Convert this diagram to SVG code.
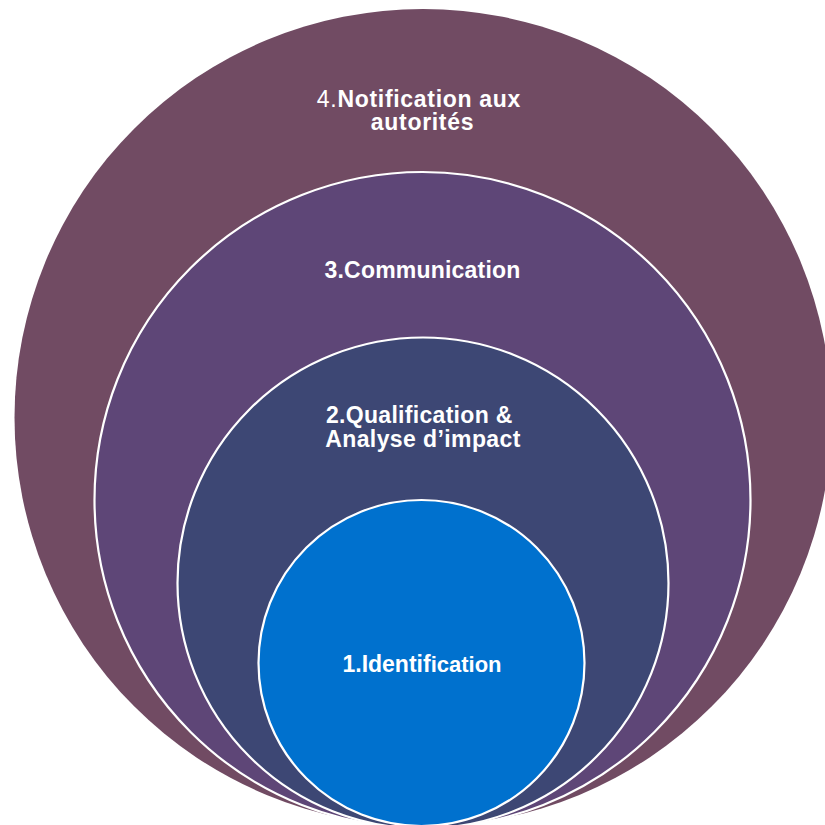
<svg xmlns="http://www.w3.org/2000/svg" width="825" height="825" viewBox="0 0 825 825">
  <style>
    .ring { stroke: #ffffff; stroke-width: 2.2; }
    .label { font-family: "Liberation Sans", Arial, sans-serif; font-weight: bold; font-size: 23px; fill: #ffffff; text-anchor: middle; }
    .plain { font-weight: normal; }
  </style>
  <rect width="825" height="825" fill="#ffffff"/>

  <!-- Stage 4: outermost circle -->
  <g id="stage-4-notification">
    <circle cx="423" cy="417.5" r="408.5" fill="#714B63"/>
    <text class="label" font-size="22" letter-spacing="0.7">
      <tspan x="422.5" y="106.5"><tspan class="plain">4.</tspan>Notification aux</tspan>
      <tspan x="422.5" y="129.5">autorités</tspan>
    </text>
  </g>

  <!-- Stage 3 -->
  <g id="stage-3-communication">
    <circle class="ring" cx="422.5" cy="500" r="328" fill="#5E4677"/>
    <text class="label" x="422.5" y="278" font-size="24" letter-spacing="0.2">3.Communication</text>
  </g>

  <!-- Stage 2 -->
  <g id="stage-2-qualification">
    <circle class="ring" cx="423" cy="583" r="245.5" fill="#3D4774"/>
    <text class="label" font-size="23">
      <tspan x="422.5" y="423" letter-spacing="0.3">2.Qualification &amp;</tspan>
      <tspan x="423" y="447" letter-spacing="0.4">Analyse d’impact</tspan>
    </text>
  </g>

  <!-- Stage 1: innermost circle -->
  <g id="stage-1-identification">
    <circle class="ring" cx="421.5" cy="663" r="163" fill="#0071CE"/>
    <text class="label" x="422" y="671.5">1.Identif<tspan font-size="22">ication</tspan></text>
  </g>
</svg>
